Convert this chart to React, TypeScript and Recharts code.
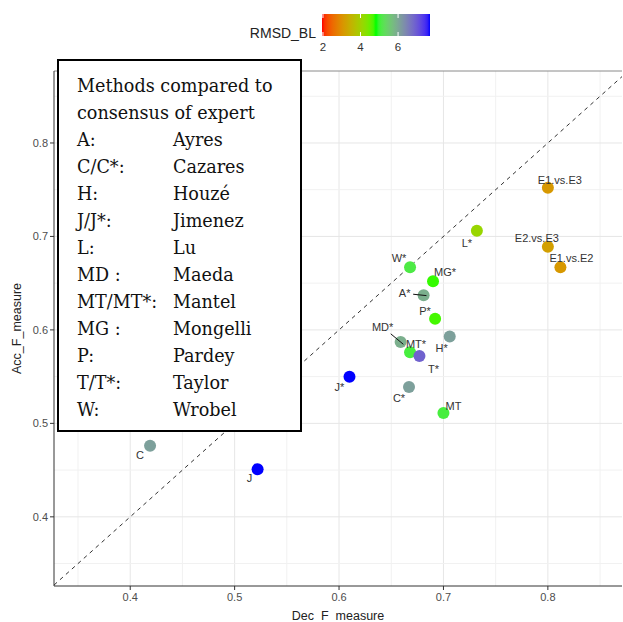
import { ScatterChart, Scatter, XAxis, YAxis, ReferenceLine } from 'recharts';

// points: method codes, decision F-measure (x), accuracy F-measure (y), RMSD_BL (colour)
const METHODS = ['E1.vs.E3', 'E2.vs.E3', 'E1.vs.E2', 'L*', 'W*', 'MG*', 'A*', 'P*', 'MD*', 'H*', 'MT*', 'T*', 'J*', 'C*', 'MT', 'C', 'J'];
const DEC_F = [0.8, 0.8, 0.812, 0.732, 0.668, 0.69, 0.681, 0.692, 0.659, 0.706, 0.668, 0.677, 0.61, 0.667, 0.7, 0.419, 0.522];
const ACC_F = [0.752, 0.689, 0.667, 0.706, 0.667, 0.652, 0.637, 0.612, 0.587, 0.593, 0.576, 0.572, 0.55, 0.539, 0.511, 0.476, 0.451];
const RMSD_BL = [3.1, 3.2, 3.1, 4.1, 5.1, 4.75, 5.9, 4.7, 5.9, 6.1, 5.05, 6.9, 7.7, 6.1, 5.05, 6.1, 7.7];

const X_TICKS = [0.4, 0.5, 0.6, 0.7, 0.8];
const Y_TICKS = [0.4, 0.5, 0.6, 0.7, 0.8];
const GRID_VALUES = [0.35, 0.4, 0.45, 0.5, 0.55, 0.6, 0.65, 0.7, 0.75, 0.8, 0.85];
const LEGEND_TICKS = [2, 4, 6];

const KEY_CODES = ['A:', 'C/C*:', 'H:', 'J/J*:', 'L:', 'MD :', 'MT/MT*:', 'MG :', 'P:', 'T/T*:', 'W:'];
const KEY_NAMES = ['Ayres', 'Cazares', 'Houzé', 'Jimenez', 'Lu', 'Maeda', 'Mantel', 'Mongelli', 'Pardey', 'Taylor', 'Wrobel'];

// colour scale: red -> green -> blue, interpolated in Lab like ggplot
const SCALE_MIN = 1.95;
const SCALE_MAX = 7.7;
const SCALE_COLOURS = ['#ff0000', '#00ff00', '#0000ff'];

// label nudges (repel-ish placement), px relative to point
const NUDGE: Record<string, [number, number]> = {
  'E1.vs.E3': [12, -8], 'E2.vs.E3': [-11, -9], 'E1.vs.E2': [11, -9], 'L*': [-10, 12],
  'W*': [-11, -9], 'MG*': [12, -9], 'A*': [-19, -2], 'P*': [-10, -8], 'MD*': [-18, -15],
  'H*': [-8, 12], 'MT*': [6, -8], 'T*': [14, 13], 'J*': [-10, 10], 'C*': [-10, 11],
  'MT': [10, -7], 'C': [-10, 9], 'J': [-8, 9],
};
const LEADERS = ['A*', 'MD*'];

const toLin = (c: number) => (c <= 0.04045 ? c / 12.92 : Math.pow((c + 0.055) / 1.055, 2.4));
const fromLin = (c: number) => {
  const v = c <= 0.0031308 ? 12.92 * c : 1.055 * Math.pow(c, 1 / 2.4) - 0.055;
  return Math.round(Math.max(0, Math.min(1, v)) * 255);
};
const f = (t: number) => (t > 0.008856 ? Math.cbrt(t) : 7.787 * t + 16 / 116);
const finv = (t: number) => (t * t * t > 0.008856 ? t * t * t : (t - 16 / 116) / 7.787);

function hexToLab(hex: string) {
  const r = toLin(parseInt(hex.slice(1, 3), 16) / 255);
  const g = toLin(parseInt(hex.slice(3, 5), 16) / 255);
  const b = toLin(parseInt(hex.slice(5, 7), 16) / 255);
  const X = (0.4124 * r + 0.3576 * g + 0.1805 * b) / 0.95047;
  const Y = 0.2126 * r + 0.7152 * g + 0.0722 * b;
  const Z = (0.0193 * r + 0.1192 * g + 0.9505 * b) / 1.08883;
  return [116 * f(Y) - 16, 500 * (f(X) - f(Y)), 200 * (f(Y) - f(Z))];
}

function labToRgb([L, a, bb]: number[]) {
  const fy = (L + 16) / 116;
  const X = 0.95047 * finv(fy + a / 500);
  const Y = finv(fy);
  const Z = 1.08883 * finv(fy - bb / 200);
  const r = fromLin(3.2406 * X - 1.5372 * Y - 0.4986 * Z);
  const g = fromLin(-0.9689 * X + 1.8758 * Y + 0.0415 * Z);
  const b = fromLin(0.0557 * X - 0.204 * Y + 1.057 * Z);
  return `rgb(${r},${g},${b})`;
}

const LABS = SCALE_COLOURS.map(hexToLab);
function colourFor(v: number) {
  const t = Math.max(0, Math.min(1, (v - SCALE_MIN) / (SCALE_MAX - SCALE_MIN))) * (LABS.length - 1);
  const i = Math.min(LABS.length - 2, Math.floor(t));
  const u = t - i;
  return labToRgb(LABS[i].map((c, k) => c + (LABS[i + 1][k] - c) * u));
}

const data = METHODS.map((name, i) => ({ name, x: DEC_F[i], y: ACC_F[i], colour: colourFor(RMSD_BL[i]) }));

const sans = '"Liberation Sans", Arial, sans-serif';
const tickStyle = { fontSize: 11, fill: '#4d4d4d', fontFamily: sans };

const Dot = (props: any) => <circle cx={props.cx} cy={props.cy} r={6} fill={props.payload.colour} />;

const PointLabel = (props: any) => {
  const { cx, cy, payload } = props;
  const [dx, dy] = NUDGE[payload.name] ?? [0, -10];
  return (
    <g>
      {LEADERS.includes(payload.name) && (
        <line x1={cx + dx * 0.55} y1={cy + dy * 0.55} x2={cx - dx * 0.15} y2={cy - dy * 0.15} stroke="#111" strokeWidth={1} />
      )}
      <text x={cx + dx} y={cy + dy} textAnchor="middle" dominantBaseline="central" fontSize={11} fill="#333" fontFamily={sans}>
        {payload.name}
      </text>
    </g>
  );
};

function ColourBar() {
  const x0 = 322;
  const w = 108;
  const pos = (v: number) => x0 + ((v - SCALE_MIN) / (SCALE_MAX - SCALE_MIN)) * w;
  const stops = Array.from({ length: 41 }, (_, k) => SCALE_MIN + ((SCALE_MAX - SCALE_MIN) * k) / 40);
  return (
    <svg width={623} height={60} style={{ position: 'absolute', left: 0, top: 0 }}>
      <defs>
        <linearGradient id="rmsd" x1="0" x2="1" y1="0" y2="0">
          {stops.map((v, k) => (
            <stop key={k} offset={k / 40} stopColor={colourFor(v)} />
          ))}
        </linearGradient>
      </defs>
      <text x={316} y={33} textAnchor="end" dominantBaseline="central" fontSize={14} fill="#222" fontFamily={sans}>
        RMSD_BL
      </text>
      <rect x={x0} y={14} width={w} height={22} fill="url(#rmsd)" />
      {LEGEND_TICKS.map((t) => (
        <g key={t}>
          <line x1={pos(t)} x2={pos(t)} y1={14} y2={18} stroke="#fff" strokeWidth={1} />
          <line x1={pos(t)} x2={pos(t)} y1={32} y2={36} stroke="#fff" strokeWidth={1} />
          <text x={pos(t)} y={47} textAnchor="middle" dominantBaseline="central" fontSize={11.5} fill="#333" fontFamily={sans}>
            {t}
          </text>
        </g>
      ))}
    </svg>
  );
}

function KeyBox() {
  return (
    <div
      style={{
        position: 'absolute', left: 57, top: 59, width: 245, height: 373, boxSizing: 'border-box',
        border: '2px solid #000', background: '#fff', padding: '12px 0 0 18px',
        fontFamily: '"DejaVu Serif", serif', fontSize: 17.6, lineHeight: '27px', color: '#111',
      }}
    >
      <div>Methods compared to</div>
      <div>consensus of expert</div>
      {KEY_CODES.map((c, i) => (
        <div key={c} style={{ display: 'flex' }}>
          <span style={{ width: 96 }}>{c}</span>
          <span>{KEY_NAMES[i]}</span>
        </div>
      ))}
    </div>
  );
}

export default function App() {
  return (
    <div style={{ position: 'absolute', left: 0, top: 0, width: 623, height: 622, background: '#fff' }}>
      <ScatterChart width={623} height={622} margin={{ top: 71, right: 1, bottom: 0, left: 4 }}>
        {GRID_VALUES.map((v) => (
          <ReferenceLine key={'gx' + v} x={v} stroke={X_TICKS.includes(v) ? '#e6e6e6' : '#f1f1f1'} strokeWidth={1} />
        ))}
        {GRID_VALUES.map((v) => (
          <ReferenceLine key={'gy' + v} y={v} stroke={Y_TICKS.includes(v) ? '#e6e6e6' : '#f1f1f1'} strokeWidth={1} />
        ))}
        <ReferenceLine y={0.877} stroke="#8a8a8a" strokeWidth={1} />
        <XAxis
          type="number"
          dataKey="x"
          domain={[0.327, 0.871]}
          allowDataOverflow
          ticks={X_TICKS}
          tickFormatter={(v: number) => v.toFixed(1)}
          tick={tickStyle}
          tickSize={4}
          tickMargin={3}
          height={36}
          axisLine={{ stroke: '#333' }}
          tickLine={{ stroke: '#333' }}
          label={{ value: 'Dec_F_measure', position: 'insideBottom', offset: 2, style: { fontSize: 12.5, fill: '#222', fontFamily: sans } }}
        />
        <YAxis
          type="number"
          dataKey="y"
          domain={[0.326, 0.877]}
          allowDataOverflow
          ticks={Y_TICKS}
          tickFormatter={(v: number) => v.toFixed(1)}
          tick={tickStyle}
          tickSize={4}
          tickMargin={2}
          width={50}
          axisLine={{ stroke: '#333' }}
          tickLine={{ stroke: '#333' }}
          label={{ value: 'Acc_F_measure', angle: -90, position: 'insideLeft', offset: 13, style: { textAnchor: 'middle', fontSize: 12.5, fill: '#222', fontFamily: sans } }}
        />
        <ReferenceLine
          segment={[{ x: 0.327, y: 0.327 }, { x: 0.871, y: 0.871 }]}
          stroke="#333"
          strokeDasharray="4 4"
          strokeWidth={1}
          ifOverflow="visible"
        />
        <Scatter data={data} shape={Dot} isAnimationActive={false} />
        <Scatter data={data} shape={PointLabel} isAnimationActive={false} />
      </ScatterChart>
      <ColourBar />
      <KeyBox />
    </div>
  );
}
